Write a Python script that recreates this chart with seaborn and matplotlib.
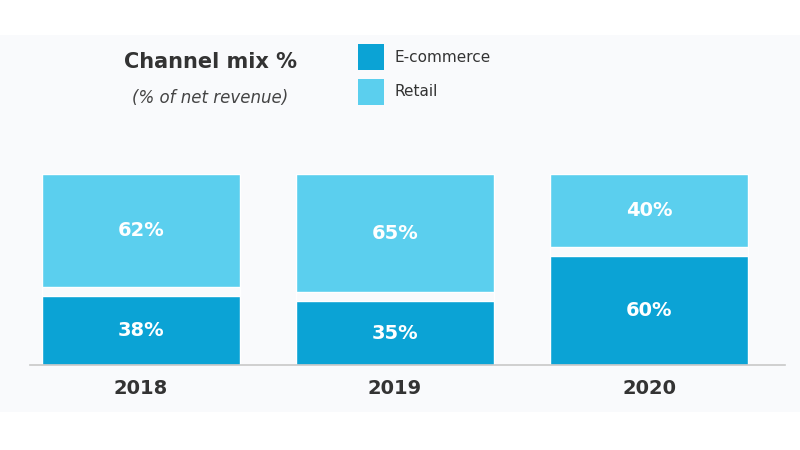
import matplotlib
matplotlib.use("Agg")
import matplotlib.pyplot as plt
import seaborn as sns
import pandas as pd
from matplotlib.patches import Rectangle

years = ["2018", "2019", "2020"]
ecommerce = [38, 35, 60]
retail = [62, 65, 40]
series_names = ["E-commerce", "Retail"]
title = "Channel mix %"
subtitle = "(% of net revenue)"

c_ecom = "#0ba3d5"
c_retail = "#5bcfee"
c_text = "#333333"
panel = "#f9fafc"

sns.set_theme(style="white")
plt.rcParams["font.family"] = ["DejaVu Sans"]

gap = 5.0
df = pd.DataFrame({"year": years, "ecom": ecommerce, "retail": retail})
df["retail_top"] = df["ecom"] + gap + df["retail"]
df["ecom_gap"] = df["ecom"] + gap

fig = plt.figure(figsize=(8, 4.5), dpi=100)
fig.patch.set_facecolor("white")
fig.add_artist(Rectangle((0, (450 - 412) / 450), 1, (412 - 35) / 450,
                         transform=fig.transFigure, facecolor=panel,
                         edgecolor="none", zorder=0))

ax = fig.add_axes([30 / 800, (450 - 365) / 450, 755 / 800, (365 - 174) / 450])
ax.set_facecolor("none")
w = 0.78
sns.barplot(data=df, x="year", y="retail_top", color=c_retail, width=w,
            saturation=1, ax=ax, zorder=2)
sns.barplot(data=df, x="year", y="ecom_gap", color=panel, width=w,
            saturation=1, ax=ax, zorder=3)
sns.barplot(data=df, x="year", y="ecom", color=c_ecom, width=w,
            saturation=1, ax=ax, zorder=4)

for i, (e, r) in enumerate(zip(ecommerce, retail)):
    ax.text(i, e / 2, f"{e}%", ha="center", va="center", color="white",
            fontsize=14, fontweight="bold", zorder=5)
    ax.text(i, e + gap + r / 2, f"{r}%", ha="center", va="center",
            color="white", fontsize=14, fontweight="bold", zorder=5)

ax.set_xlim(-0.437, 2.535)
ax.set_ylim(0, 100 + gap)
ax.set_xlabel("")
ax.set_ylabel("")
ax.set_yticks([])
for s in ["top", "right", "left"]:
    ax.spines[s].set_visible(False)
ax.spines["bottom"].set_color("#c8c8c8")
ax.spines["bottom"].set_linewidth(1.2)
ax.spines["bottom"].set_zorder(6)
ax.tick_params(axis="x", length=0, pad=10, labelsize=14, labelcolor=c_text)
for lab in ax.get_xticklabels():
    lab.set_fontweight("bold")

fig.text(210 / 800, 1 - 62 / 450, title, ha="center", va="center",
         fontsize=15, fontweight="bold", color=c_text)
fig.text(210 / 800, 1 - 98 / 450, subtitle, ha="center", va="center",
         fontsize=12, style="italic", color="#444444")

for k, (name, col) in enumerate(zip(series_names, [c_ecom, c_retail])):
    yc = 57 + k * 35
    fig.add_artist(Rectangle((358 / 800, 1 - (yc + 13) / 450), 26 / 800, 26 / 450,
                             transform=fig.transFigure, facecolor=col,
                             edgecolor="none"))
    fig.text(394 / 800, 1 - yc / 450, name, ha="left", va="center",
             fontsize=11, color=c_text)

fig.savefig("out.png", dpi=100)
